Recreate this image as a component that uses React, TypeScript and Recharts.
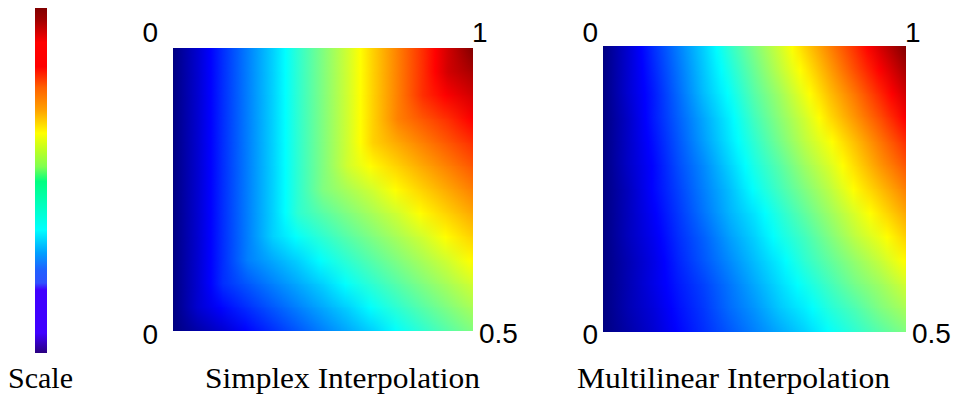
import React from 'react';
import { BarChart, Bar, XAxis, YAxis } from 'recharts';

// sample positions across a map, 0 = left / top edge, 1 = right / bottom edge
const gridU = [0, 0.083, 0.167, 0.25, 0.333, 0.417, 0.5, 0.583, 0.667, 0.75, 0.833, 0.917, 1];

// values, one row per gridU step from top to bottom
const simplexRows = [
  [0, 0.08, 0.17, 0.25, 0.33, 0.42, 0.5, 0.58, 0.67, 0.75, 0.83, 0.92, 1],
  [0, 0.08, 0.17, 0.25, 0.33, 0.42, 0.5, 0.58, 0.67, 0.75, 0.83, 0.92, 0.96],
  [0, 0.08, 0.17, 0.25, 0.33, 0.42, 0.5, 0.58, 0.67, 0.75, 0.83, 0.88, 0.92],
  [0, 0.08, 0.17, 0.25, 0.33, 0.42, 0.5, 0.58, 0.67, 0.75, 0.79, 0.83, 0.88],
  [0, 0.08, 0.17, 0.25, 0.33, 0.42, 0.5, 0.58, 0.67, 0.71, 0.75, 0.79, 0.83],
  [0, 0.08, 0.17, 0.25, 0.33, 0.42, 0.5, 0.58, 0.63, 0.67, 0.71, 0.75, 0.79],
  [0, 0.08, 0.17, 0.25, 0.33, 0.42, 0.5, 0.54, 0.58, 0.63, 0.67, 0.71, 0.75],
  [0, 0.08, 0.17, 0.25, 0.33, 0.42, 0.46, 0.5, 0.54, 0.58, 0.63, 0.67, 0.71],
  [0, 0.08, 0.17, 0.25, 0.33, 0.38, 0.42, 0.46, 0.5, 0.54, 0.58, 0.63, 0.67],
  [0, 0.08, 0.17, 0.25, 0.29, 0.33, 0.38, 0.42, 0.46, 0.5, 0.54, 0.58, 0.63],
  [0, 0.08, 0.17, 0.21, 0.25, 0.29, 0.33, 0.38, 0.42, 0.46, 0.5, 0.54, 0.58],
  [0, 0.08, 0.13, 0.17, 0.21, 0.25, 0.29, 0.33, 0.38, 0.42, 0.46, 0.5, 0.54],
  [0, 0.04, 0.08, 0.13, 0.17, 0.21, 0.25, 0.29, 0.33, 0.38, 0.42, 0.46, 0.5],
];

// values
const multilinearRows = [
  [0, 0.08, 0.17, 0.25, 0.33, 0.42, 0.5, 0.58, 0.67, 0.75, 0.83, 0.92, 1],
  [0, 0.08, 0.16, 0.24, 0.32, 0.4, 0.48, 0.56, 0.64, 0.72, 0.8, 0.88, 0.96],
  [0, 0.08, 0.15, 0.23, 0.31, 0.38, 0.46, 0.53, 0.61, 0.69, 0.76, 0.84, 0.92],
  [0, 0.07, 0.15, 0.22, 0.29, 0.36, 0.44, 0.51, 0.58, 0.66, 0.73, 0.8, 0.88],
  [0, 0.07, 0.14, 0.21, 0.28, 0.35, 0.42, 0.49, 0.56, 0.62, 0.69, 0.76, 0.83],
  [0, 0.07, 0.13, 0.2, 0.26, 0.33, 0.4, 0.46, 0.53, 0.59, 0.66, 0.73, 0.79],
  [0, 0.06, 0.13, 0.19, 0.25, 0.31, 0.38, 0.44, 0.5, 0.56, 0.63, 0.69, 0.75],
  [0, 0.06, 0.12, 0.18, 0.24, 0.3, 0.35, 0.41, 0.47, 0.53, 0.59, 0.65, 0.71],
  [0, 0.06, 0.11, 0.17, 0.22, 0.28, 0.33, 0.39, 0.44, 0.5, 0.56, 0.61, 0.67],
  [0, 0.05, 0.1, 0.16, 0.21, 0.26, 0.31, 0.36, 0.42, 0.47, 0.52, 0.57, 0.63],
  [0, 0.05, 0.1, 0.15, 0.19, 0.24, 0.29, 0.34, 0.39, 0.44, 0.49, 0.53, 0.58],
  [0, 0.05, 0.09, 0.14, 0.18, 0.23, 0.27, 0.32, 0.36, 0.41, 0.45, 0.5, 0.54],
  [0, 0.04, 0.08, 0.13, 0.17, 0.21, 0.25, 0.29, 0.33, 0.38, 0.42, 0.46, 0.5],
];

// corner labels: [top-left, top-right], [bottom-left, bottom-right]
const topLabels = ['0', '1'];
const bottomLabels = ['0', '0.5'];
const captions = ['Scale', 'Simplex Interpolation', 'Multilinear Interpolation'];

// colours of the scale bar, top to bottom
const scaleColors = [
  '#800000', '#a00000', '#ff0000', '#ff0000', '#ff3000', '#ff6000', '#ffa000', '#ffff00', '#c0ff20',
  '#80ff50', '#00ff80', '#00ffb0', '#00ffff', '#00a0ff', '#2060ff', '#3050ff', '#4000ff', '#4000ff', '#2a0080',
];
const scaleOffsets = [0, 0.035, 0.1, 0.17, 0.2, 0.23, 0.295, 0.363, 0.41, 0.46, 0.503, 0.556, 0.643, 0.71, 0.76, 0.797, 0.817, 0.942, 1];

const KNOTS = [0.125, 0.375, 0.625, 0.875];
const clamp = (x: number) => Math.max(0, Math.min(1, x));

function jet(v: number) {
  const r = clamp(Math.min(4 * v - 1.5, -4 * v + 4.5));
  const g = clamp(Math.min(4 * v - 0.5, -4 * v + 3.5));
  const b = clamp(Math.min(4 * v + 0.5, -4 * v + 2.5));
  return `rgb(${Math.round(r * 255)},${Math.round(g * 255)},${Math.round(b * 255)})`;
}

// gradient stops for one row; extra stops where the colormap bends so the ramp stays true
function rowStops(vals: number[]) {
  const stops: { o: number; c: string }[] = [];
  vals.forEach((v, j) => {
    stops.push({ o: gridU[j], c: jet(v) });
    if (j < vals.length - 1) {
      const w = vals[j + 1];
      KNOTS.forEach((k) => {
        if ((k - v) * (k - w) < 0) {
          const f = (k - v) / (w - v);
          stops.push({ o: gridU[j] + f * (gridU[j + 1] - gridU[j]), c: jet(k) });
        }
      });
    }
  });
  return stops.sort((a, b) => a.o - b.o);
}

interface HeatMapProps {
  id: string;
  rows: number[][];
  width: number;
  height: number;
}

function HeatMap({ id, rows, width, height }: HeatMapProps) {
  const bands = rows.slice(0, -1).map((_, i) => ({ band: i, full: 1 }));
  const last = bands.length - 1;

  return (
    <BarChart
      width={width}
      height={height}
      data={bands}
      layout="vertical"
      margin={{ top: 0, right: 0, bottom: 0, left: 0 }}
      barCategoryGap={0}
      barGap={0}
    >
      <defs>
        {rows.map((r, i) => (
          <linearGradient key={i} id={`${id}-row-${i}`} x1="0" y1="0" x2="1" y2="0">
            {rowStops(r).map((s, k) => (
              <stop key={k} offset={s.o} stopColor={s.c} />
            ))}
          </linearGradient>
        ))}
        <linearGradient id={`${id}-ramp`} x1="0" y1="0" x2="0" y2="1">
          <stop offset="0" stopColor="#000" />
          <stop offset="1" stopColor="#fff" />
        </linearGradient>
        <mask id={`${id}-fade`} maskContentUnits="objectBoundingBox">
          <rect x="0" y="0" width="1" height="1" fill={`url(#${id}-ramp)`} />
        </mask>
      </defs>
      <XAxis type="number" domain={[0, 1]} hide />
      <YAxis type="category" dataKey="band" hide />
      <Bar
        dataKey="full"
        isAnimationActive={false}
        shape={(p: any) => {
          const i = p.payload.band;
          const h = p.height + (i < last ? 1 : 0);
          return (
            <g>
              <rect x={p.x} y={p.y} width={p.width} height={h} fill={`url(#${id}-row-${i})`} />
              <rect
                x={p.x}
                y={p.y}
                width={p.width}
                height={h}
                fill={`url(#${id}-row-${i + 1})`}
                mask={`url(#${id}-fade)`}
              />
            </g>
          );
        }}
      />
    </BarChart>
  );
}

function ScaleBar() {
  return (
    <BarChart width={12} height={345} data={[{ name: 'scale', v: 1 }]} margin={{ top: 0, right: 0, bottom: 0, left: 0 }} barCategoryGap={0}>
      <defs>
        <linearGradient id="scale-grad" x1="0" y1="0" x2="0" y2="1">
          {scaleColors.map((c, i) => (
            <stop key={i} offset={scaleOffsets[i]} stopColor={c} />
          ))}
        </linearGradient>
      </defs>
      <XAxis dataKey="name" hide />
      <YAxis type="number" domain={[0, 1]} hide />
      <Bar dataKey="v" fill="url(#scale-grad)" isAnimationActive={false} />
    </BarChart>
  );
}

const maps = [
  { id: 'simplex', rows: simplexRows, x: 173, y: 48, w: 300, h: 283, gap: 15, caption: captions[1], capX: 205, capW: 275 },
  { id: 'multi', rows: multilinearRows, x: 603, y: 46, w: 303, h: 286, gap: 5, caption: captions[2], capX: 577, capW: 313 },
];

export default function App() {
  const num = { fontFamily: '"Liberation Sans", Arial, sans-serif', fontSize: 28, fill: '#000' };
  const serif = { fontFamily: '"Liberation Serif", "Times New Roman", serif', fontSize: 29, fill: '#000' };

  return (
    <div style={{ position: 'absolute', left: 0, top: 0, width: 953, height: 395, background: '#fff' }}>
      <div style={{ position: 'absolute', left: 35, top: 8 }}>
        <ScaleBar />
      </div>
      {maps.map((m) => (
        <div key={m.id} style={{ position: 'absolute', left: m.x, top: m.y }}>
          <HeatMap id={m.id} rows={m.rows} width={m.w} height={m.h} />
        </div>
      ))}
      <svg width={953} height={395} style={{ position: 'absolute', left: 0, top: 0, pointerEvents: 'none' }}>
        {maps.map((m) => (
          <g key={m.id}>
            <text x={m.x - m.gap} y={42} textAnchor="end" style={num}>{topLabels[0]}</text>
            <text x={m.x + m.w - 1} y={42} style={num}>{topLabels[1]}</text>
            <text x={m.x - m.gap} y={344} textAnchor="end" style={num}>{bottomLabels[0]}</text>
            <text x={m.x + m.w + 6} y={343} style={num}>{bottomLabels[1]}</text>
            <text x={m.capX} y={388} textLength={m.capW} lengthAdjust="spacingAndGlyphs" style={serif}>
              {m.caption}
            </text>
          </g>
        ))}
        <text x={8} y={388} textLength={65} lengthAdjust="spacingAndGlyphs" style={serif}>{captions[0]}</text>
      </svg>
    </div>
  );
}
